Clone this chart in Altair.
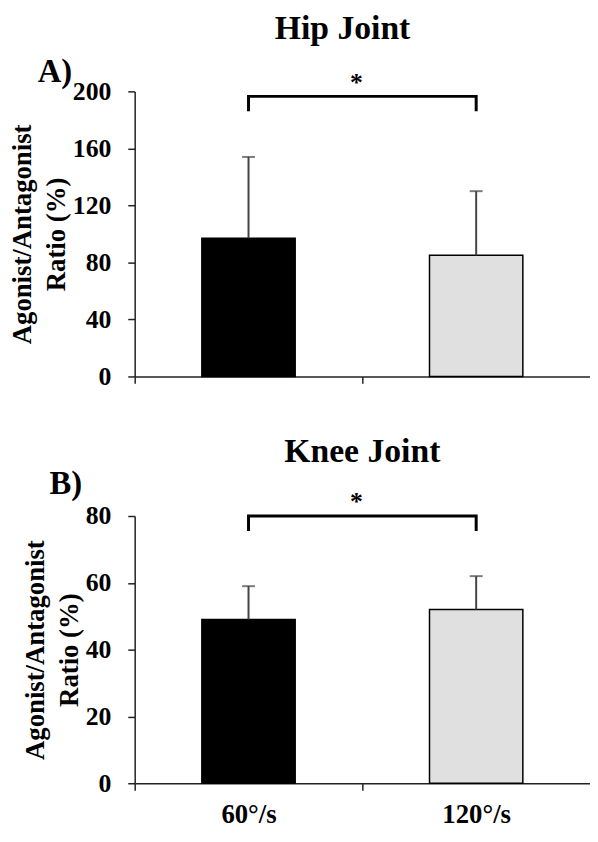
import altair as alt
import pandas as pd

categories = ["60°/s", "120°/s"]
hip_mean = [97, 85]
hip_sd = [57, 45]
knee_mean = [49, 52]
knee_sd = [10, 10]
bar_fill = ["#000000", "#e0e0e0"]
hip_ticks = [0, 40, 80, 120, 160, 200]
knee_ticks = [0, 20, 40, 60, 80]
hip_bracket = [186, 196.5]
knee_bracket = [75.5, 80]
y_title = ["Agonist/Antagonist", "Ratio (%)"]

FONT = "Liberation Serif"
W = 460
STEP = W / 2


def panel(title, label, mean, sd, ticks, ymax, bracket, height, show_labels,
          title_dx, title_offset, label_xy, star_y):
    df = pd.DataFrame({
        "cat": categories,
        "mean": mean,
        "upper": [m + s for m, s in zip(mean, sd)],
        "fill": bar_fill,
    })
    xs = alt.Scale(domain=categories, paddingInner=0.59, paddingOuter=0.295)
    xaxis = alt.Axis(title=None, labels=show_labels, tickOffset=-STEP / 2,
                     labelOffset=STEP / 2, labelAngle=0, labelPadding=12,
                     labelFontSize=27)
    x = alt.X("cat:N", scale=xs, axis=xaxis, sort=categories)
    y = alt.Y("mean:Q", scale=alt.Scale(domain=[0, ymax], nice=False),
              axis=alt.Axis(values=ticks, title=y_title, labelPadding=17,
                            titleFontSize=27, titleLineHeight=34,
                            titlePadding=2, titleFont=FONT,
                            titleFontWeight="bold", titleColor="black"))
    bars = alt.Chart(df).mark_bar(stroke="black", strokeWidth=1.5).encode(
        x=x, y=y, fill=alt.Fill("fill:N", scale=None))
    err = alt.Chart(df).mark_rule(color="#444", strokeWidth=2).encode(
        x=alt.X("cat:N", sort=categories), y="mean:Q", y2="upper:Q")
    cap = alt.Chart(df).mark_tick(color="#444", thickness=2, size=13).encode(
        x=alt.X("cat:N", sort=categories), y="upper:Q")
    bdf = pd.DataFrame({
        "cat": [categories[0], categories[0], categories[1], categories[1]],
        "yv": [bracket[0], bracket[1], bracket[1], bracket[0]],
        "o": [0, 1, 2, 3],
    })
    br = alt.Chart(bdf).mark_line(color="black", strokeWidth=3,
                                  strokeJoin="miter").encode(
        x=alt.X("cat:N", sort=categories), y="yv:Q", order="o:Q")
    star = alt.Chart(pd.DataFrame({"t": ["*"]})).mark_text(
        font=FONT, fontWeight="bold", fontSize=26, color="black",
        align="center", baseline="alphabetic").encode(
        x=alt.value(W / 2 - 6), y=alt.value(star_y), text="t:N")
    lab = alt.Chart(pd.DataFrame({"t": [label]})).mark_text(
        font=FONT, fontWeight="bold", fontSize=33, color="black",
        align="left", baseline="alphabetic").encode(
        x=alt.value(label_xy[0]), y=alt.value(label_xy[1]), text="t:N")
    return alt.layer(bars, err, cap, br, star, lab).properties(
        width=W, height=height,
        title=alt.TitleParams(title, font=FONT, fontWeight="bold",
                              fontSize=34, color="black", anchor="middle",
                              frame="group", offset=title_offset,
                              dx=title_dx),
    )


top = panel("Hip Joint", "A)", hip_mean, hip_sd, hip_ticks, 200, hip_bracket,
            288, False, -20, 11, (-98, -9), 0)
bottom = panel("Knee Joint", "B)", knee_mean, knee_sd, knee_ticks, 80,
               knee_bracket, 270, True, 0, 0, (-86, -22), -6)

chart = alt.vconcat(top, bottom, spacing=46).properties(
    padding={"left": 1, "top": 0, "right": 0, "bottom": 0}
).configure_view(stroke=None).configure_axis(
    domainColor="#222", domainWidth=1.5, tickColor="#222", tickWidth=1.5,
    tickSize=7, labelFont=FONT, labelFontWeight="bold", labelFontSize=26,
    labelColor="black", grid=False,
)

chart.save("out.html", embed_options={"renderer": "svg", "actions": False})
